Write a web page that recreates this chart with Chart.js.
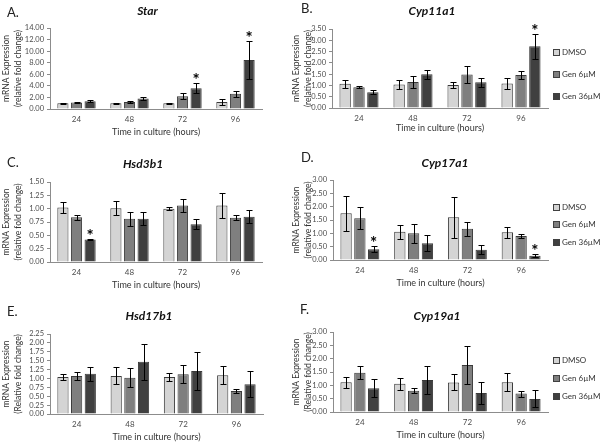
<!DOCTYPE html>
<html>
<head>
<meta charset="utf-8">
<script src="https://cdn.jsdelivr.net/npm/chart.js@4.4.1/dist/chart.umd.min.js"></script>
<style>
  body { margin: 0; background: #fff; width: 600px; height: 442px; position: relative; overflow: hidden; font-family: Lato, 'Open Sans', sans-serif; }
  canvas { position: absolute; }
  .letter { position: absolute; font-size: 13px; line-height: 1; color: #222; transform: translateY(-50%); }
  .title { position: absolute; font-size: 12px; line-height: 1; font-weight: bold; font-style: italic; color: #111; white-space: nowrap; transform: translate(-50%, -50%); }
</style>
</head>
<body>
<script>
// shared categories / series
const timePoints = ['24', '48', '72', '96']
const seriesNames = ['DMSO', 'Gen 6µM', 'Gen 36µM']

// rows: DMSO, Gen 6µM, Gen 36µM ; columns: 24, 48, 72, 96 h
const starMean = [[1.0, 1.0, 1.0, 1.2], [1.12, 1.2, 2.2, 2.65], [1.35, 1.82, 3.6, 8.45]]
const starErr = [[0.05, 0.1, 0.1, 0.55], [0.06, 0.12, 0.5, 0.5], [0.2, 0.3, 0.9, 3.3]]
const starSig = [[2, 2], [2, 3]]

const cyp11a1Mean = [[1.07, 1.04, 1.02, 1.08], [0.92, 1.15, 1.48, 1.46], [0.70, 1.49, 1.14, 2.74]]
const cyp11a1Err = [[0.17, 0.18, 0.13, 0.25], [0.04, 0.27, 0.37, 0.16], [0.1, 0.19, 0.2, 0.55]]
const cyp11a1Sig = [[2, 3]]

const hsd3b1Mean = [[1.02, 1.01, 1.0, 1.06], [0.84, 0.81, 1.06, 0.83], [0.42, 0.81, 0.71, 0.85]]
const hsd3b1Err = [[0.11, 0.13, 0.03, 0.24], [0.05, 0.13, 0.13, 0.05], [0.01, 0.12, 0.09, 0.12]]
const hsd3b1Sig = [[2, 0]]

const cyp17a1Mean = [[1.75, 1.06, 1.6, 1.04], [1.57, 1.0, 1.17, 0.9], [0.4, 0.63, 0.38, 0.16]]
const cyp17a1Err = [[0.65, 0.27, 0.78, 0.2], [0.42, 0.35, 0.27, 0.08], [0.11, 0.3, 0.17, 0.05]]
const cyp17a1Sig = [[2, 0], [2, 3]]

const hsd17b1Mean = [[1.04, 1.07, 1.04, 1.09], [1.07, 1.02, 1.12, 0.65], [1.13, 1.47, 1.21, 0.84]]
const hsd17b1Err = [[0.08, 0.24, 0.11, 0.25], [0.11, 0.26, 0.25, 0.05], [0.2, 0.5, 0.54, 0.36]]
const hsd17b1Sig = []

const cyp19a1Mean = [[1.12, 1.06, 1.11, 1.12], [1.47, 0.8, 1.76, 0.69], [0.89, 1.2, 0.71, 0.49]]
const cyp19a1Err = [[0.21, 0.22, 0.3, 0.34], [0.25, 0.09, 0.7, 0.11], [0.34, 0.51, 0.42, 0.32]]
const cyp19a1Sig = []

const seriesFill = ['#d4d4d4', '#7f7f7f', '#404040']
const axisGray = '#8c8c8c'
const textGray = '#4d4d4d'

const panels = [
  { letter: 'A.', title: 'Star', mean: starMean, err: starErr, sig: starSig, max: 14, step: 2,
    yTitle: ['mRNA Expression', '(relative fold change)'],
    box: { x: 0, y: 0, w: 290, h: 142 }, area: { l: 50, r: 262, t: 28, b: 109 },
    letterPos: [7, 12], titlePos: [147.5, 11] },
  { letter: 'B.', title: 'Cyp11a1', mean: cyp11a1Mean, err: cyp11a1Err, sig: cyp11a1Sig, max: 3.5, step: 0.5,
    yTitle: ['mRNA Expression', '(relative fold change)'],
    box: { x: 290, y: 0, w: 310, h: 142 }, area: { l: 332, r: 548, t: 29, b: 108 },
    letterPos: [301, 8], titlePos: [432, 11], legend: { shift: 5.5, gap: 22 }, xTitleGap: 20 },
  { letter: 'C.', title: 'Hsd3b1', mean: hsd3b1Mean, err: hsd3b1Err, sig: hsd3b1Sig, max: 1.5, step: 0.25,
    yTitle: ['mRNA Expression', '(relative fold change)'],
    box: { x: 0, y: 145, w: 290, h: 145 }, area: { l: 50, r: 262, t: 182, b: 262 },
    letterPos: [7, 162], titlePos: [143, 163.5] },
  { letter: 'D.', title: 'Cyp17a1', mean: cyp17a1Mean, err: cyp17a1Err, sig: cyp17a1Sig, max: 3, step: 0.5,
    yTitle: ['mRNA Expression', '(relative fold change)'],
    box: { x: 290, y: 145, w: 310, h: 145 }, area: { l: 333, r: 548, t: 180, b: 260 },
    letterPos: [301, 157], titlePos: [445, 163], legend: { shift: 4.3, gap: 17.5 } },
  { letter: 'E.', title: 'Hsd17b1', mean: hsd17b1Mean, err: hsd17b1Err, sig: hsd17b1Sig, max: 2.25, step: 0.25,
    yTitle: ['mRNA Expression', '(Relative fold change)'],
    box: { x: 0, y: 295, w: 290, h: 147 }, area: { l: 50, r: 263, t: 334, b: 414 },
    letterPos: [7, 311], titlePos: [149, 316] },
  { letter: 'F.', title: 'Cyp19a1', mean: cyp19a1Mean, err: cyp19a1Err, sig: cyp19a1Sig, max: 3, step: 0.5,
    yTitle: ['mRNA Expression', '(Relative fold change)'],
    box: { x: 290, y: 295, w: 310, h: 147 }, area: { l: 333, r: 548, t: 332, b: 412 },
    letterPos: [300, 309], titlePos: [437, 316], legend: { shift: 6, gap: 17.7 } }
]

// error bars, drawn over the bars like Excel does
const errorBars = {
  id: 'errorBars',
  afterDatasetsDraw(chart) {
    const { ctx } = chart
    const y = chart.scales.y
    ctx.save()
    ctx.strokeStyle = '#000'
    ctx.lineWidth = 1
    chart.data.datasets.forEach((ds, di) => {
      chart.getDatasetMeta(di).data.forEach((bar, i) => {
        const v = ds.data[i]
        const e = ds.errors[i]
        const x = Math.round(bar.x) + 0.5
        const top = Math.round(y.getPixelForValue(v + e)) + 0.5
        const bot = Math.round(y.getPixelForValue(Math.max(0, v - e))) + 0.5
        ctx.beginPath()
        ctx.moveTo(x, top)
        ctx.lineTo(x, bot)
        ctx.moveTo(x - 3, top)
        ctx.lineTo(x + 3, top)
        ctx.moveTo(x - 3, bot)
        ctx.lineTo(x + 3, bot)
        ctx.stroke()
      })
    })
    ctx.restore()
  }
}

// asterisks over significant bars
const sigStars = {
  id: 'sigStars',
  afterDatasetsDraw(chart, args, opts) {
    const { ctx } = chart
    const y = chart.scales.y
    ctx.save()
    ctx.fillStyle = '#000'
    ctx.font = 'bold 17px Lato, sans-serif'
    ctx.textAlign = 'center'
    ctx.textBaseline = 'alphabetic'
    ;(opts.marks || []).forEach(([di, i]) => {
      const ds = chart.data.datasets[di]
      const bar = chart.getDatasetMeta(di).data[i]
      const top = y.getPixelForValue(ds.data[i] + ds.errors[i])
      ctx.fillText('*', bar.x, top + 3)
    })
    ctx.restore()
  }
}

// legend at the right of the plot area
const sideLegend = {
  id: 'sideLegend',
  afterDraw(chart, args, opts) {
    if (!opts.show) return
    const { ctx, chartArea } = chart
    const mid = (chartArea.top + chartArea.bottom) / 2 + opts.shift
    ctx.save()
    ctx.font = '8px Lato, sans-serif'
    ctx.textBaseline = 'middle'
    chart.data.datasets.forEach((ds, k) => {
      const cy = Math.round(mid + (k - 1) * opts.gap)
      const bx = Math.round(chartArea.right) + 5
      ctx.fillStyle = ds.backgroundColor
      ctx.fillRect(bx, cy - 3, 6, 6)
      ctx.strokeStyle = '#404040'
      ctx.lineWidth = 1
      ctx.strokeRect(bx + 0.5, cy - 2.5, 6, 6)
      ctx.fillStyle = '#333'
      ctx.fillText(ds.label, bx + 9, cy + 0.5)
    })
    ctx.restore()
  }
}

panels.forEach(p => {
  const canvas = document.createElement('canvas')
  canvas.width = p.box.w
  canvas.height = p.box.h
  canvas.style.left = p.box.x + 'px'
  canvas.style.top = p.box.y + 'px'
  document.body.appendChild(canvas)

  const letter = document.createElement('div')
  letter.className = 'letter'
  letter.textContent = p.letter
  letter.style.left = p.letterPos[0] + 'px'
  letter.style.top = p.letterPos[1] + 'px'
  document.body.appendChild(letter)

  const title = document.createElement('div')
  title.className = 'title'
  title.textContent = p.title
  title.style.left = p.titlePos[0] + 'px'
  title.style.top = p.titlePos[1] + 'px'
  document.body.appendChild(title)

  const yWidth = p.area.l - p.box.x
  const xHeight = 30
  const titleGap = p.xTitleGap || 23

  new Chart(canvas, {
    type: 'bar',
    data: {
      labels: timePoints,
      datasets: seriesNames.map((name, i) => ({
        label: name,
        data: p.mean[i],
        errors: p.err[i],
        backgroundColor: seriesFill[i],
        borderColor: '#3a3a3a',
        borderWidth: 1,
        categoryPercentage: 0.77,
        barPercentage: 0.82
      }))
    },
    options: {
      responsive: false,
      animation: false,
      events: [],
      layout: {
        padding: {
          left: 0,
          right: p.box.x + p.box.w - p.area.r,
          top: p.area.t - p.box.y,
          bottom: p.box.y + p.box.h - p.area.b - xHeight
        }
      },
      plugins: {
        legend: { display: false },
        tooltip: { enabled: false },
        sigStars: { marks: p.sig },
        sideLegend: { show: !!p.legend, shift: p.legend ? p.legend.shift : 0, gap: p.legend ? p.legend.gap : 0 }
      },
      scales: {
        x: {
          grid: { display: false, drawTicks: false },
          border: { color: axisGray },
          ticks: { font: { family: 'Lato', size: 8 }, color: textGray, padding: 6, maxRotation: 0 },
          title: {
            display: true,
            text: 'Time in culture (hours)',
            font: { family: 'Lato', size: 9, lineHeight: 1.2 },
            color: '#333',
            padding: { top: 0, bottom: xHeight - titleGap - 5.4 }
          },
          afterFit(s) { s.height = xHeight }
        },
        y: {
          min: 0,
          max: p.max,
          ticks: {
            stepSize: p.step,
            autoSkip: false,
            callback: v => v.toFixed(2),
            font: { family: 'Lato', size: 7.5 },
            color: textGray,
            padding: 3
          },
          grid: { drawOnChartArea: false, drawTicks: true, tickLength: 3, color: axisGray },
          border: { color: axisGray },
          title: {
            display: true,
            text: p.yTitle,
            font: { family: 'Lato', size: 8.5, lineHeight: 1.4 },
            color: '#333',
            padding: 0
          },
          afterFit(s) { s.width = yWidth }
        }
      }
    },
    plugins: [errorBars, sigStars, sideLegend]
  })
})
</script>
</body>
</html>
